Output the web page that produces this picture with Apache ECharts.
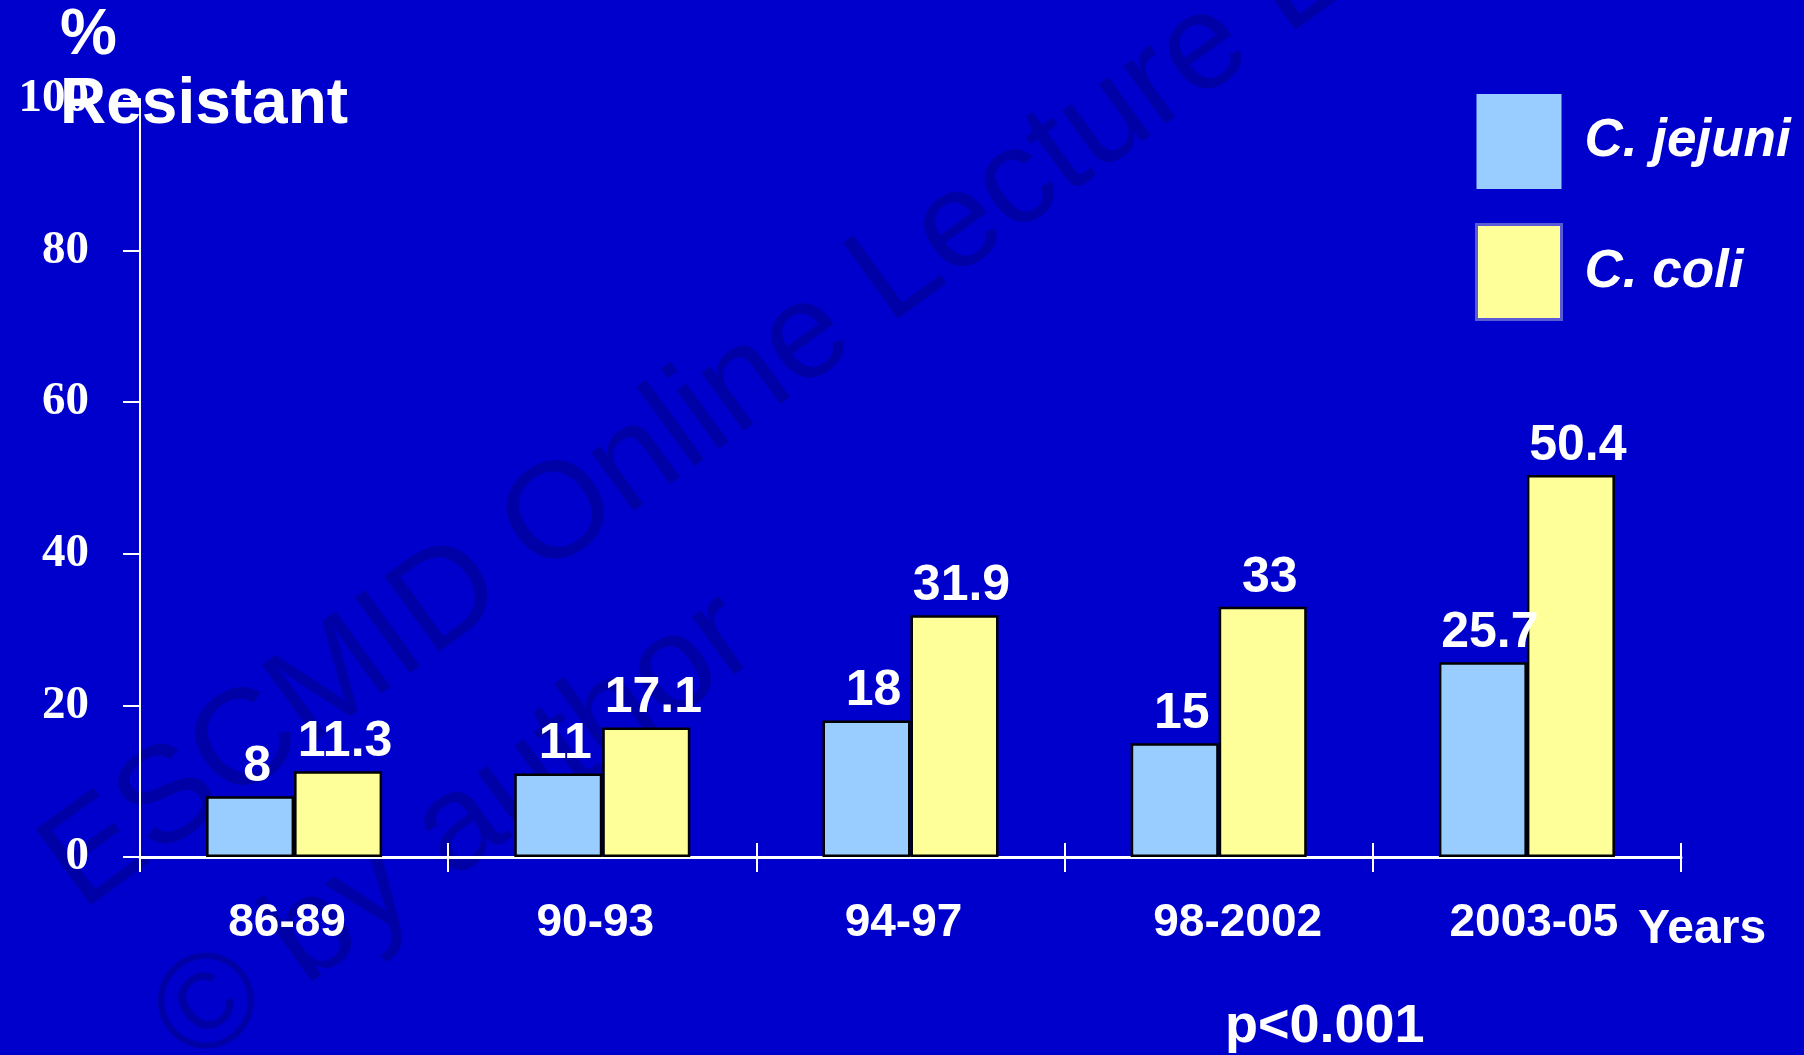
<!DOCTYPE html>
<html>
<head>
<meta charset="utf-8">
<script src="https://cdn.jsdelivr.net/npm/echarts@6/dist/echarts.min.js"></script>
<style>
  html, body { margin: 0; padding: 0; background: #0000cc; }
  #chart { width: 1804px; height: 1055px; }
</style>
</head>
<body>
<div id="chart"></div>
<script>
// Resistance by period (%)
const periods = ['86-89', '90-93', '94-97', '98-2002', '2003-05'];
const jejuni = [8, 11, 18, 15, 25.7];
const coli = [11.3, 17.1, 31.9, 33, 50.4];
const seriesNames = ['C. jejuni', 'C. coli'];

const WHITE = '#ffffff';
const SANS = '"Liberation Sans", Arial, sans-serif';
const SERIF = '"Liberation Serif", "Times New Roman", serif';

// horizontal nudge of each period label (rich-text style key per category)
const labelStyleKey = ['l', 'l', 'l', 'r2', 'r1'];

const chart = echarts.init(document.getElementById('chart'));

const barLabel = {
  show: true,
  position: 'top',
  distance: 4,
  offset: [7, 0],
  color: WHITE,
  fontFamily: SANS,
  fontWeight: 'bold',
  fontSize: 50
};

const catFont = { color: WHITE, fontFamily: SANS, fontWeight: 'bold', fontSize: 46 };

const wmText = (text, x, y) => ({
  type: 'text',
  x: x,
  y: y,
  style: {
    text: text,
    fontFamily: SANS,
    fontSize: 136,
    fill: 'rgba(0,0,0,0.18)',
    align: 'left',
    verticalAlign: 'middle'
  }
});

chart.setOption({
  backgroundColor: '#0000cc',
  animation: false,
  grid: { left: 140, right: 123, top: 99, bottom: 198 },
  legend: {
    orient: 'vertical',
    left: 1475,
    top: 94,
    padding: 0,
    itemWidth: 85,
    itemHeight: 95,
    itemGap: 34,
    icon: 'rect',
    selectedMode: false,
    textStyle: {
      color: WHITE,
      fontFamily: SANS,
      fontSize: 53,
      fontWeight: 'bold',
      fontStyle: 'italic',
      padding: [0, 0, 40, 18]
    },
    data: [
      { name: seriesNames[0], itemStyle: { color: '#99ccff', borderWidth: 0 } },
      { name: seriesNames[1], itemStyle: { color: '#ffff99', borderColor: '#5a5ad6', borderWidth: 3 } }
    ]
  },
  xAxis: [
    {
      type: 'category',
      data: periods,
      position: 'bottom',
      axisLine: { show: true, lineStyle: { color: WHITE, width: 3 } },
      axisTick: { show: true, inside: false, interval: 0, length: 15, lineStyle: { color: WHITE, width: 2 } },
      axisLabel: {
        interval: 0,
        hideOverlap: false,
        margin: 43,
        ...catFont,
        formatter: (value, index) => '{' + labelStyleKey[index] + '|' + value + '}',
        rich: {
          l: { ...catFont, padding: [0, 14, 0, 0] },
          r1: { ...catFont, padding: [0, 0, 0, 14] },
          r2: { ...catFont, padding: [0, 0, 0, 38] }
        }
      },
      splitLine: { show: false }
    },
    {
      type: 'category',
      data: periods,
      position: 'bottom',
      axisLine: { show: false },
      axisTick: { show: true, inside: true, interval: 0, length: 14, lineStyle: { color: WHITE, width: 2 } },
      axisLabel: { show: false, interval: 0 },
      splitLine: { show: false }
    }
  ],
  yAxis: {
    type: 'value',
    min: 0,
    max: 100,
    interval: 20,
    axisLine: { show: true, lineStyle: { color: WHITE, width: 2 } },
    axisTick: { show: true, inside: false, length: 17, lineStyle: { color: WHITE, width: 2 } },
    axisLabel: {
      color: WHITE,
      fontFamily: SERIF,
      fontWeight: 'bold',
      fontSize: 47,
      margin: 51
    },
    splitLine: { show: false }
  },
  series: [
    {
      name: seriesNames[0],
      type: 'bar',
      data: jejuni,
      barWidth: 88,
      barGap: '0%',
      itemStyle: { color: '#99ccff', borderColor: '#000000', borderWidth: 2.5 },
      label: barLabel
    },
    {
      name: seriesNames[1],
      type: 'bar',
      data: coli,
      barWidth: 88,
      barGap: '0%',
      itemStyle: { color: '#ffff99', borderColor: '#000000', borderWidth: 2.5 },
      label: barLabel
    }
  ],
  graphic: [
    {
      type: 'text', left: 60, top: 4, z: 50,
      style: { text: '%', fill: WHITE, fontFamily: SANS, fontWeight: 'bold', fontSize: 64 }
    },
    {
      type: 'text', x: 60, y: 105, z: 50,
      style: { text: 'Resistant', fill: WHITE, fontFamily: SANS, fontWeight: 'bold', fontSize: 64, align: 'left', verticalAlign: 'middle' }
    },
    {
      type: 'text', x: 1638, y: 930, z: 50,
      style: { text: 'Years', fill: WHITE, fontFamily: SANS, fontWeight: 'bold', fontSize: 48, align: 'left', verticalAlign: 'middle' }
    },
    {
      type: 'text', x: 1225, y: 1027, z: 50,
      style: { text: 'p<0.001', fill: WHITE, fontFamily: SANS, fontWeight: 'bold', fontSize: 54, align: 'left', verticalAlign: 'middle' }
    },
    // diagonal watermark over the whole slide
    {
      type: 'group',
      x: 67,
      y: 908,
      rotation: 36 * Math.PI / 180,
      z: 100,
      silent: true,
      children: [
        wmText('ESCMID Online Lecture Library', 10, -26),
        wmText('\u00A9 by author', 8, 166)
      ]
    }
  ]
});
</script>
</body>
</html>
